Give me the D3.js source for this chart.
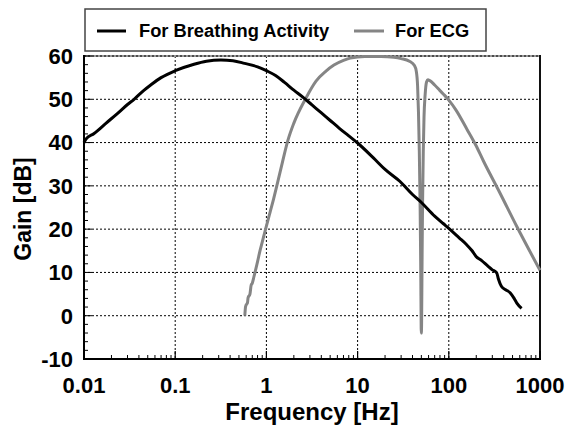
<!DOCTYPE html>
<html>
<head>
<meta charset="utf-8">
<script src="https://cdn.jsdelivr.net/npm/d3@7"></script>
<style>
  html, body { margin: 0; padding: 0; background: #fff; }
  svg { display: block; font-family: "Liberation Sans", Arial, sans-serif; }
</style>
</head>
<body>
<svg id="chart" width="567" height="428"></svg>
<script>
// ---- data ----
const breathFreq = [0.01,0.0105,0.0129,0.0175,0.0232,0.03,0.0354,0.045,0.0539,0.07,0.1,0.161,0.22,0.317,0.43,0.575,0.8,1,1.26,1.58,2,2.51,3.16,3.98,5.01,6.31,7.94,10,15,20,29.2,40,50.4,70,86.7,100,130,157,180,199,228,270,300,335,350,377,420,470,520,557,628];
const breathGain = [40,40.8,42.1,44.5,46.7,48.8,50,52,53.3,55,56.6,58.1,58.8,59.1,58.9,58.3,57.5,56.6,55.5,53.9,52.1,50.5,48.7,46.9,45.1,43.3,41.6,39.9,36.4,33.8,31,28,26.1,23,21.3,20.2,18,16.4,15,13.7,12.8,11.4,10.6,9.9,8.5,6.8,6,5.3,4,2.9,1.7];

const ecgFreq = [0.58,0.59,0.6,0.62,0.63,0.66,0.68,0.7,0.73,0.75,0.8,0.85,0.9,0.98,1.1,1.2,1.3,1.5,1.72,2,2.7,3.5,4.5,5.5,7,8.3,12,18,25,30,37,42,44,45.5,46.5,47.5,48.5,49.3,49.8,50,50.3,50.8,51.5,52.5,53.5,55,57,59,62,70,80,90,100,120,157,200,239,365,557,1000];
const ecgGain = [0,2,2.5,3,4.2,5,7,7.5,9,10,12.5,15,17,20,24,27,30,35.5,40.5,44.5,50.2,54.2,56.5,57.9,59,59.5,59.9,59.9,59.7,59.4,58.8,57.8,56.5,53,47,38,25,10,-3,-4,-2,10,25,38,46,51,54,54.5,54.3,53.3,52,50.9,49.8,47.5,43.2,39.2,35.8,28.3,20.6,10.5];

const xTickValues = [0.01,0.1,1,10,100,1000];
const xTickLabels = ["0.01","0.1","1","10","100","1000"];
const yTickValues = [-10,0,10,20,30,40,50,60];
const seriesNames = ["For Breathing Activity","For ECG"];
const seriesColors = ["#000000","#858585"];

// ---- layout ----
const svg = d3.select("#chart");
const L = 84, R = 540, T = 56, B = 359;
const x = d3.scaleLog().domain([0.01,1000]).range([L,R]);
const y = d3.scaleLinear().domain([-10,60]).range([B,T]);

// grid
const grid = svg.append("g");
grid.selectAll("line.gx").data(xTickValues.slice(1,-1)).enter().append("line")
  .attr("x1", d=>x(d)).attr("x2", d=>x(d)).attr("y1", T).attr("y2", B)
  .attr("stroke","#000").attr("stroke-width",1).attr("stroke-dasharray","2,2");
grid.selectAll("line.gy").data(yTickValues.slice(1)).enter().append("line")
  .attr("x1", L).attr("x2", R).attr("y1", d=>y(d)).attr("y2", d=>y(d))
  .attr("stroke","#000").attr("stroke-width",1).attr("stroke-dasharray","2,2");

// frame top/right
svg.append("line").attr("x1",L).attr("x2",R).attr("y1",T).attr("y2",T)
  .attr("stroke","#999").attr("stroke-width",2);
svg.append("line").attr("x1",L).attr("x2",R).attr("y1",T).attr("y2",T)
  .attr("stroke","#000").attr("stroke-width",1).attr("stroke-dasharray","2,2");
svg.append("line").attr("x1",R).attr("x2",R).attr("y1",T-1).attr("y2",B)
  .attr("stroke","#111").attr("stroke-width",2);

// minor ticks
const minorX = [];
for (let e=-2; e<3; e++) for (let m=2; m<=9; m++) minorX.push(m*Math.pow(10,e));
svg.append("g").selectAll("line").data(minorX).enter().append("line")
  .attr("x1", d=>x(d)).attr("x2", d=>x(d)).attr("y1", B).attr("y2", B-4)
  .attr("stroke","#000").attr("stroke-width",1);
svg.append("g").selectAll("line").data(xTickValues).enter().append("line")
  .attr("x1", d=>x(d)).attr("x2", d=>x(d)).attr("y1", B).attr("y2", B-8)
  .attr("stroke","#000").attr("stroke-width",1.2);
const minorY = d3.range(-10,61,2);
svg.append("g").selectAll("line").data(minorY).enter().append("line")
  .attr("x1", L).attr("x2", d=> (d%10===0 ? L+8 : L+4)).attr("y1", d=>y(d)).attr("y2", d=>y(d))
  .attr("stroke","#000").attr("stroke-width",1);

// axes lines
svg.append("line").attr("x1",L).attr("x2",L).attr("y1",T-1).attr("y2",B+1)
  .attr("stroke","#000").attr("stroke-width",2);
svg.append("line").attr("x1",L-1).attr("x2",R+1).attr("y1",B).attr("y2",B)
  .attr("stroke","#000").attr("stroke-width",2);

// curves
const line = d3.line().x(d=>x(d[0])).y(d=>y(d[1])).curve(d3.curveMonotoneX);
const breath = breathFreq.map((f,i)=>[f,breathGain[i]]);
const ecg = ecgFreq.map((f,i)=>[f,ecgGain[i]]);
svg.append("path").datum(ecg).attr("d",line).attr("fill","none")
  .attr("stroke",seriesColors[1]).attr("stroke-width",3).attr("stroke-linejoin","round");
svg.append("path").datum(breath).attr("d",line).attr("fill","none")
  .attr("stroke",seriesColors[0]).attr("stroke-width",3).attr("stroke-linejoin","round");

// tick labels
svg.append("g").selectAll("text").data(xTickValues).enter().append("text")
  .attr("x", d=>x(d)).attr("y", 393).attr("text-anchor","middle")
  .attr("font-size",22).attr("font-weight","bold")
  .text((d,i)=>xTickLabels[i]);
svg.append("g").selectAll("text").data(yTickValues).enter().append("text")
  .attr("x", 73).attr("y", d=>y(d)).attr("dy","0.36em").attr("text-anchor","end")
  .attr("font-size",22).attr("font-weight","bold")
  .text(d=>d);

// axis titles
svg.append("text").attr("x",(L+R)/2).attr("y",420).attr("text-anchor","middle")
  .attr("font-size",24).attr("font-weight","bold").text("Frequency [Hz]");
svg.append("text").attr("transform","translate(31,209) rotate(-90)").attr("text-anchor","middle")
  .attr("font-size",23).attr("font-weight","bold").text("Gain [dB]");

// legend
const lg = svg.append("g");
lg.append("rect").attr("x",85).attr("y",9).attr("width",401).attr("height",42)
  .attr("fill","#fff").attr("stroke","#444").attr("stroke-width",1.5);
lg.append("line").attr("x1",97).attr("x2",126).attr("y1",31).attr("y2",31)
  .attr("stroke",seriesColors[0]).attr("stroke-width",3);
lg.append("text").attr("x",139).attr("y",37).attr("font-size",18.3).attr("font-weight","bold").text(seriesNames[0]);
lg.append("line").attr("x1",354).attr("x2",384).attr("y1",31).attr("y2",31)
  .attr("stroke",seriesColors[1]).attr("stroke-width",3);
lg.append("text").attr("x",395).attr("y",37).attr("font-size",18.3).attr("font-weight","bold").text(seriesNames[1]);
</script>
</body>
</html>
